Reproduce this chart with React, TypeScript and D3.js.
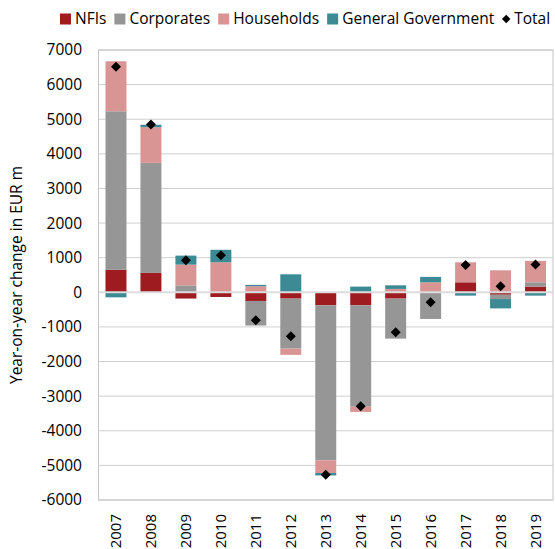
import React from 'react';
import * as d3 from 'd3';

const years = ['2007', '2008', '2009', '2010', '2011', '2012', '2013', '2014', '2015', '2016', '2017', '2018', '2019'];
const nfis = [650, 560, -180, -135, -250, -182, -375, -375, -182, 0, 289, -70, 165];
const corporates = [4580, 3180, 200, 0, -710, -1445, -4480, -2930, -1156, -770, 0, -125, 125];
const households = [1445, 1030, 600, 868, 175, -180, -365, -150, 98, 289, 578, 636, 618];
const government = [-145, 70, 260, 360, 40, 520, -70, 165, 104, 156, -96, -270, -96];
const totals = [6514, 4850, 925, 1070, -810, -1270, -5270, -3295, -1156, -289, 792, 173, 800];
const yTicks = [7000, 6000, 5000, 4000, 3000, 2000, 1000, 0, -1000, -2000, -3000, -4000, -5000, -6000];

const seriesNames = ['NFIs', 'Corporates', 'Households', 'General Government'];
const seriesColors = ['#9e1b20', '#969696', '#d99594', '#3b8a94'];

const font = '"Open Sans", sans-serif';

const drawChart = (ref) => {
    const W = 555, H = 549;
    const margin = { top: 50, right: 2, bottom: 49, left: 98.5 };

    const svg = d3.select(ref.current);
    svg.selectAll('*').remove();
    svg.attr('width', W).attr('height', H);

    const rows = years.map((yr, i) => ({
        year: yr,
        NFIs: nfis[i],
        Corporates: corporates[i],
        Households: households[i],
        'General Government': government[i],
    }));

    const x = d3.scaleBand()
        .domain(years)
        .range([margin.left, W - margin.right])
        .paddingInner(0.4)
        .paddingOuter(0.2);

    const y = d3.scaleLinear()
        .domain([-6000, 7000])
        .range([H - margin.bottom, margin.top]);

    // gridlines
    svg.append('g')
        .selectAll('line')
        .data(yTicks.filter(t => t !== 0))
        .enter().append('line')
        .attr('x1', margin.left).attr('x2', W - margin.right)
        .attr('y1', d => y(d)).attr('y2', d => y(d))
        .attr('stroke', '#cfcfcf')
        .attr('stroke-width', 1);

    // stacked bars
    const stack = d3.stack()
        .keys(seriesNames)
        .offset(d3.stackOffsetDiverging);
    const layers = stack(rows);

    svg.append('g')
        .selectAll('g')
        .data(layers)
        .enter().append('g')
        .attr('fill', (d, i) => seriesColors[i])
        .selectAll('rect')
        .data(d => d)
        .enter().append('rect')
        .attr('x', d => x(d.data.year))
        .attr('width', x.bandwidth())
        .attr('y', d => y(Math.max(d[0], d[1])))
        .attr('height', d => Math.abs(y(d[0]) - y(d[1])));

    // zero line
    svg.append('line')
        .attr('x1', margin.left).attr('x2', W - margin.right)
        .attr('y1', y(0)).attr('y2', y(0))
        .attr('stroke', '#dcdcdc')
        .attr('stroke-width', 2);

    // plot border
    svg.append('rect')
        .attr('x', margin.left).attr('y', margin.top)
        .attr('width', W - margin.right - margin.left)
        .attr('height', H - margin.bottom - margin.top)
        .attr('fill', 'none')
        .attr('stroke', '#c4c4c4')
        .attr('stroke-width', 1);

    // totals
    const diamond = d3.symbol().type(d3.symbolSquare).size(50);
    svg.append('g')
        .selectAll('path')
        .data(totals)
        .enter().append('path')
        .attr('d', diamond)
        .attr('transform', (d, i) => `translate(${x(years[i]) + x.bandwidth() / 2},${y(d)}) rotate(45)`)
        .attr('fill', '#000');

    // y tick labels
    svg.append('g')
        .selectAll('text')
        .data(yTicks)
        .enter().append('text')
        .attr('x', 82)
        .attr('y', d => y(d))
        .attr('dy', '0.35em')
        .attr('text-anchor', 'end')
        .attr('font-family', font)
        .attr('font-size', 15.5)
        .attr('fill', '#000')
        .text(d => d);

    // x tick labels
    svg.append('g')
        .selectAll('text')
        .data(years)
        .enter().append('text')
        .attr('transform', d => `translate(${x(d) + x.bandwidth() / 2},${H - margin.bottom + 14}) rotate(-90)`)
        .attr('dy', '0.35em')
        .attr('text-anchor', 'end')
        .attr('font-family', font)
        .attr('font-size', 15)
        .attr('fill', '#000')
        .text(d => d);

    // y axis title
    svg.append('text')
        .attr('transform', `translate(22,${(margin.top + H - margin.bottom) / 2}) rotate(-90)`)
        .attr('text-anchor', 'middle')
        .attr('font-family', font)
        .attr('font-size', 15.5)
        .attr('fill', '#000')
        .text('Year-on-year change in EUR m');

    // legend
    const legend = svg.append('g');
    let lx = 60;
    const ly = 19;
    seriesNames.forEach((name, i) => {
        legend.append('rect')
            .attr('x', lx).attr('y', ly - 5.5)
            .attr('width', 11).attr('height', 11)
            .attr('fill', seriesColors[i]);
        const t = legend.append('text')
            .attr('x', lx + 15).attr('y', ly)
            .attr('dy', '0.35em')
            .attr('font-family', font)
            .attr('font-size', 15.5)
            .attr('fill', '#000')
            .text(name);
        lx += 15 + t.node().getComputedTextLength() + 8;
    });
    legend.append('path')
        .attr('d', d3.symbol().type(d3.symbolSquare).size(36)())
        .attr('transform', `translate(${lx + 4},${ly}) rotate(45)`)
        .attr('fill', '#000');
    legend.append('text')
        .attr('x', lx + 12).attr('y', ly)
        .attr('dy', '0.35em')
        .attr('font-family', font)
        .attr('font-size', 15.5)
        .attr('fill', '#000')
        .text('Total');
};

function App() {
    const ref = React.useRef(null);

    React.useEffect(() => {
        drawChart(ref);
    }, []);

    return (
        <svg ref={ref} style={{ position: 'absolute', left: 0, top: 0, background: '#fff' }} />
    );
}

export default App;
